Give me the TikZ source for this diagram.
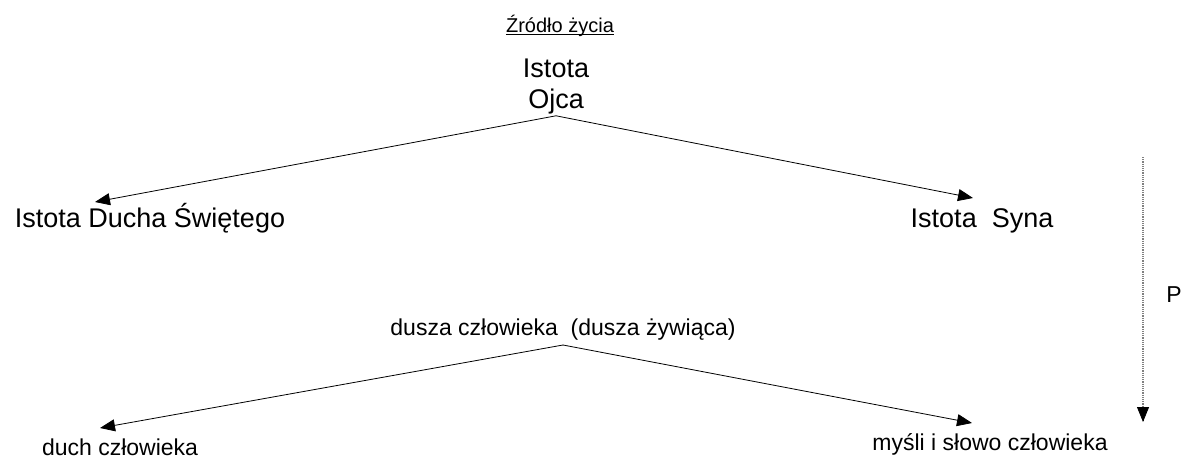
\documentclass[tikz,border=0pt]{standalone}
\usepackage{fontspec}
\setmainfont{Liberation Sans}
\usetikzlibrary{arrows.meta}
\begin{document}
\begin{tikzpicture}[x=1pt,y=-1pt,big/.style={font=\fontsize{27}{31}\selectfont},small/.style={font=\fontsize{23}{27}\selectfont},link/.style={line width=0.8pt,-{Triangle[length=15pt,width=12pt]}}]
          \useasboundingbox (0,0) rectangle (1182,461);
          \begin{scope}[every node/.style={inner sep=0pt,anchor=base}]
            \node[font=\fontsize{20}{24}\selectfont] (zrodlo) at (560,32) {Źródło życia};
            \node[big,align=center,anchor=center,inner sep=1pt] (ojca) at (556,87) {Istota\\Ojca};
            \node[big] (duch) at (150,227) {Istota Ducha Świętego};
            \node[big] (syn) at (982,227) {Istota~~Syna};
            \node[small,inner sep=5pt] (dusza) at (563,335) {dusza człowieka~~(dusza żywiąca)};
            \node[small] (duchcz) at (120,455) {duch człowieka};
            \node[small] (mysli) at (990,450) {myśli i słowo człowieka};
            \node[small] (p) at (1174,302) {P};
          \end{scope}
          \coordinate (tipduch) at (95,202);
          \coordinate (tipsyn) at (973,198);
          \coordinate (tipduchcz) at (100,428);
          \coordinate (tipmysli) at (972,423);
          \coordinate (ptop) at (1143,157);
          \coordinate (pbot) at (1143,422);
          \draw[line width=0.7pt] ([yshift=-2.5pt]zrodlo.base west) -- ([yshift=-2.5pt]zrodlo.base east);
          \draw[link] (ojca.south) -- (tipduch);
          \draw[link] (ojca.south) -- (tipsyn);
          \draw[link] (dusza.south) -- (tipduchcz);
          \draw[link] (dusza.south) -- (tipmysli);
          \draw[gray,densely dotted,line width=1.2pt] (ptop) -- ([yshift=14pt]pbot);
          \draw[-{Triangle[length=15pt,width=12pt]},line width=0.8pt] ([yshift=1pt]pbot) -- (pbot);
        \end{tikzpicture}
\end{document}
